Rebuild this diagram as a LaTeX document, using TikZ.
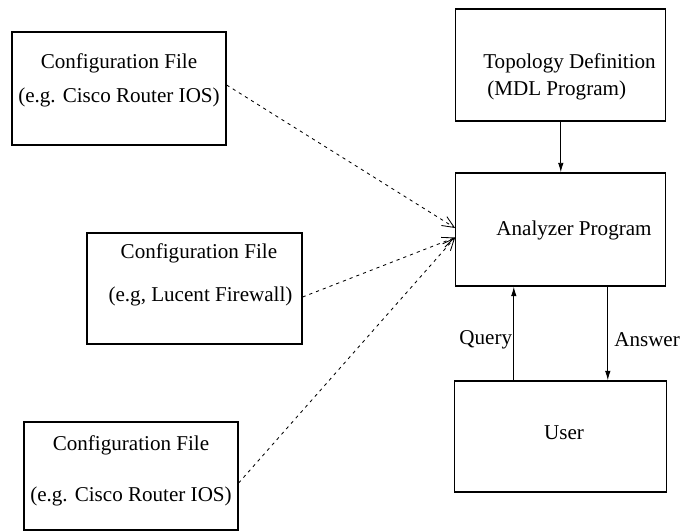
\documentclass[tikz,border=0pt]{standalone}
\usepackage{fontspec}
\setmainfont{Liberation Serif}
\usetikzlibrary{arrows.meta}
\tikzset{
  blk/.style={draw, line width=0.9pt, inner sep=0pt},
  lbl/.style={inner sep=0pt, font=\fontsize{15}{18}\selectfont},
  flow/.style={-{Latex[length=2.4mm,width=1.4mm]}, line width=0.7pt},
  feed/.style={-{Straight Barb[length=3mm,width=2.6mm]}, line width=0.6pt, dash pattern=on 0.08cm off 0.1cm}
}

\begin{document}
\begin{tikzpicture}
		\useasboundingbox (0,0) rectangle (17,13.275);
		%%%%% CONFIG FILES %%%%%
		\node[blk, minimum width=5.35cm, minimum height=2.825cm] (cfgA) at (2.975, 11.0625) {};
		\node[lbl] (cfgAa) at ([yshift=0.6375cm]cfgA.center) {Configuration File};
		\node[lbl] (cfgAb) at ([yshift=-0.2125cm]cfgA.center) {(e.g. Cisco Router IOS)};
		
		\node[blk, minimum width=5.375cm, minimum height=2.775cm] (cfgB) at (4.8625, 6.0625) {};
		\node[lbl] (cfgBa) at ([xshift=0.11cm, yshift=0.8875cm]cfgB.center) {Configuration File};
		\node[lbl] (cfgBb) at ([xshift=0.15cm, yshift=-0.1875cm]cfgB.center) {(e.g, Lucent Firewall)};
		
		\node[blk, minimum width=5.35cm, minimum height=2.7cm] (cfgC) at (3.275, 1.375) {};
		\node[lbl] (cfgCa) at ([yshift=0.775cm]cfgC.center) {Configuration File};
		\node[lbl] (cfgCb) at ([yshift=-0.5cm]cfgC.center) {(e.g. Cisco Router IOS)};
		
		%%%%% ANALYZER SIDE %%%%%
		\node[blk, minimum width=5.25cm, minimum height=2.8cm] (topo) at (14.02, 11.65) {};
		\node[lbl, anchor=west] (topoa) at (12.075, 11.7) {Topology Definition};
		\node[lbl, anchor=west] (topob) at (12.175, 11.025) {(MDL Program)};
		
		\node[blk, minimum width=5.25cm, minimum height=2.825cm] (anlz) at (14.02, 7.5375) {};
		\node[lbl] (anlza) at (14.35, 7.525) {Analyzer Program};
		
		\node[blk, minimum width=5.3cm, minimum height=2.775cm] (user) at (14.02, 2.3625) {};
		\node[lbl] (usera) at (14.1, 2.45) {User};
		
		%%%%% ARROWS %%%%%
		\draw[flow] (topo) -- (anlz);
		\draw[flow] ([xshift=-1.175cm]user.north) -- ([xshift=-1.175cm]anlz.south)
			node[lbl, pos=0.43, left, xshift=-0.03cm] (qry) {Query};
		\draw[flow] ([xshift=1.175cm]anlz.south) -- ([xshift=1.175cm]user.north)
			node[lbl, pos=0.57, right, xshift=0.15cm] (ans) {Answer};
		
		\draw[feed] ([yshift=0.0875cm]cfgA.east) -- ([yshift=0.0375cm]anlz.west);
		\draw[feed] ([yshift=-0.2125cm]cfgB.east) -- ([yshift=-0.2cm]anlz.west);
		\draw[feed] ([yshift=-0.175cm]cfgC.east) -- ([yshift=-0.2cm]anlz.west);
		%%%%% END %%%%%
\end{tikzpicture}
\end{document}
